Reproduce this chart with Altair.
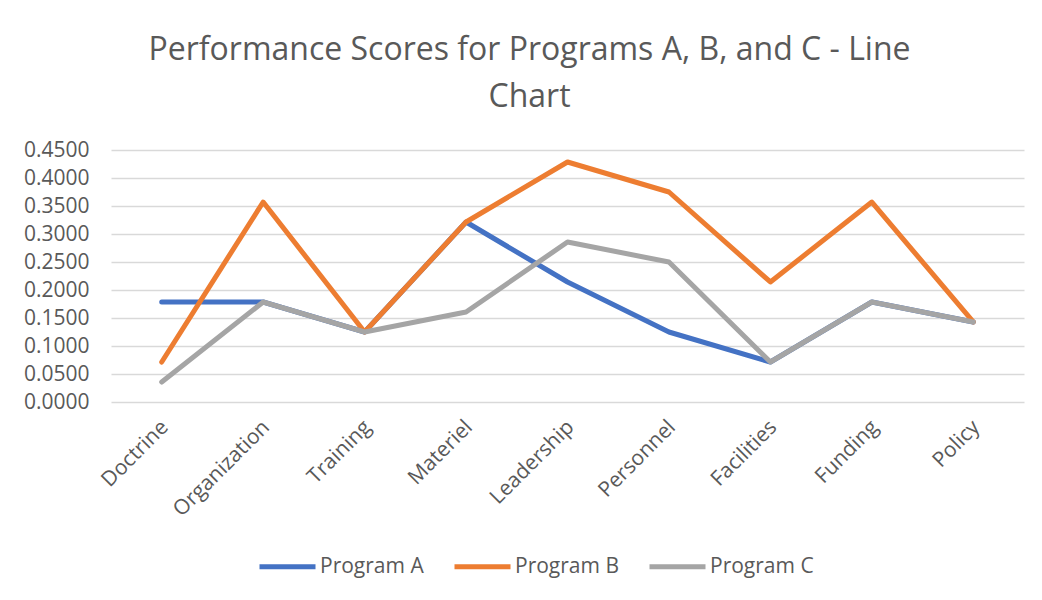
import altair as alt
import pandas as pd

categories = ["Doctrine", "Organization", "Training", "Materiel", "Leadership",
              "Personnel", "Facilities", "Funding", "Policy"]
program_a = [0.1786, 0.1786, 0.1250, 0.3214, 0.2143, 0.1250, 0.0714, 0.1786, 0.1429]
program_b = [0.0714, 0.3571, 0.1250, 0.3214, 0.4286, 0.3750, 0.2143, 0.3571, 0.1429]
program_c = [0.0357, 0.1786, 0.1250, 0.1607, 0.2857, 0.2500, 0.0714, 0.1786, 0.1429]
series_names = ["Program A", "Program B", "Program C"]
y_ticks = [0.0, 0.05, 0.10, 0.15, 0.20, 0.25, 0.30, 0.35, 0.40, 0.45]

rows = []
for name, vals in zip(series_names, [program_a, program_b, program_c]):
    for c, v in zip(categories, vals):
        rows.append({"Category": c, "Score": v, "Program": name})
df = pd.DataFrame(rows)

FONT = "Open Sans"
TXT = "#595959"

lines = alt.Chart(df).mark_line(strokeWidth=5, strokeJoin="round", strokeCap="round").encode(
    x=alt.X("Category:N", sort=categories, title=None,
            scale=alt.Scale(paddingInner=0, paddingOuter=0.5),
            axis=alt.Axis(labelAngle=-45, labelFontSize=21, labelColor=TXT, labelFont=FONT,
                          ticks=False, domain=False, labelPadding=14, labelOffset=-5,
                          grid=False)),
    y=alt.Y("Score:Q", title=None,
            scale=alt.Scale(domain=[0, 0.45], nice=False),
            axis=alt.Axis(values=y_ticks, format=".4f", labelFontSize=21, labelColor=TXT,
                          labelFont=FONT, ticks=False, domain=False, labelPadding=22,
                          grid=True, gridColor="#D9D9D9", gridWidth=1.5)),
    color=alt.Color("Program:N", sort=series_names,
                    scale=alt.Scale(domain=series_names, range=["#4472C4", "#ED7D31", "#A5A5A5"]),
                    legend=alt.Legend(title=None, orient="none", direction="horizontal",
                                      legendX=146, legendY=386,
                                      symbolType="stroke", symbolSize=3136, symbolStrokeWidth=5,
                                      labelFontSize=21, labelFont=FONT, labelColor=TXT,
                                      labelOffset=2, columnPadding=20)),
)

chart = lines.properties(
    width=913, height=252,
    autosize=alt.AutoSizeParams(type="none"),
    padding={"left": 103, "top": 142, "right": 10, "bottom": 185},
    title=alt.TitleParams(["Performance Scores for Programs A, B, and C - Line", "Chart"],
                          anchor="middle", dx=-38, fontSize=32, font=FONT, color=TXT,
                          fontWeight="normal", lineHeight=47, offset=25),
).configure_view(stroke=None)

chart.save("out.html", embed_options={"renderer": "svg", "actions": False})
